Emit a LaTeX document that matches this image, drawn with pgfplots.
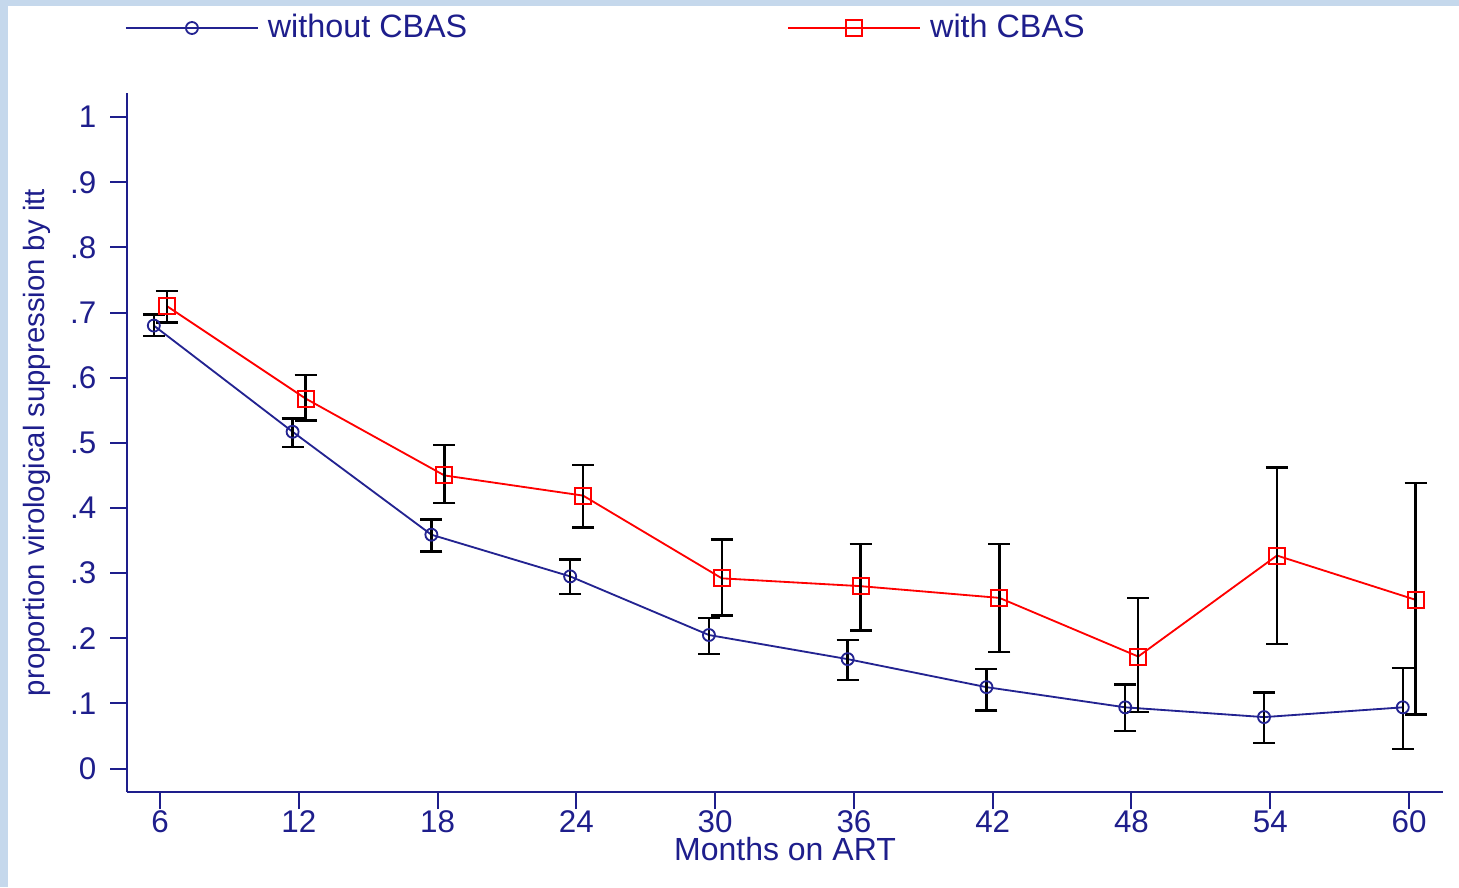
\documentclass[border=0pt]{standalone}
\usepackage{fontspec}
\setmainfont{Liberation Sans}
\usepackage{pgfplots}
\pgfplotsset{compat=1.18}

\definecolor{axisnavy}{RGB}{30,30,140}
\definecolor{linenavy}{RGB}{35,35,145}
\definecolor{bgblue}{RGB}{197,216,236}

\begin{document}
\begin{tikzpicture}
% frame: 1 px of the reference = 0.3pt
\fill[bgblue] (-38.1pt,-28.5pt) rectangle (399.6pt,237.6pt);
\fill[white] (-35.7pt,-28.5pt) rectangle (399.6pt,235.8pt);
\useasboundingbox (-38.1pt,-28.5pt) rectangle (399.6pt,237.6pt);
\begin{axis}[
  at={(0,0)}, anchor=south west,
  scale only axis,
  width=394.8pt, height=209.7pt,
  xmin=4.57, xmax=61.47,
  ymin=-0.036, ymax=1.037,
  axis x line*=bottom, axis y line*=left,
  axis line style={axisnavy, line width=0.6pt},
  tick style={axisnavy, line width=0.6pt},
  tick align=outside, major tick length=5.1pt,
  xtick={6,12,...,60},
  ytick={0,0.1,0.2,0.3,0.4,0.5,0.6,0.7,0.8,0.9,1},
  yticklabels={0,.1,.2,.3,.4,.5,.6,.7,.8,.9,1},
  ticklabel style={font=\fontsize{9.4}{11}\selectfont, text=axisnavy},
  xticklabel style={yshift=3pt},
  yticklabel style={xshift=-0.6pt},
  /pgf/number format/assume math mode=true,
  xlabel={Months on ART},
  ylabel={proportion virological suppression by itt},
  xlabel style={at={(axis description cs:0.5,-0.0815)}, anchor=center,
    font=\fontsize{9.6}{11}\selectfont, text=axisnavy},
  ylabel style={at={(axis description cs:-0.0684,0.5)}, anchor=center,
    font=\fontsize{8.8}{10}\selectfont, text=axisnavy},
  legend columns=2,
  legend style={at={(axis description cs:-0.0015,1.093)}, anchor=west,
    draw=none, fill=none, inner sep=0pt, outer sep=0pt,
    font=\fontsize{9.7}{11}\selectfont, text=axisnavy,
    nodes={inner sep=0pt},
    /tikz/every odd column/.append style={column sep=2.7pt},
    /tikz/every even column/.append style={column sep=96pt}},
  legend image code/.code={
    \draw[mark repeat=2, mark phase=2] plot coordinates {(0pt,0pt) (19.8pt,0pt) (39.6pt,0pt)};},
  error bars/error bar style={black, line width=0.75pt},
  error bars/error mark options={rotate=90, black, mark size=3.3pt, line width=0.75pt},
]
% without CBAS
\addplot[linenavy, line width=0.55pt, mark=o, mark size=1.8pt,
  mark options={line width=0.55pt},
  error bars/.cd, y dir=both, y explicit]
coordinates {
(5.73,0.680)  += (0,0.017) -= (0,0.016)
(11.73,0.517) += (0,0.020) -= (0,0.023)
(17.73,0.359) += (0,0.023) -= (0,0.026)
(23.73,0.295) += (0,0.026) -= (0,0.027)
(29.73,0.205) += (0,0.026) -= (0,0.029)
(35.73,0.168) += (0,0.029) -= (0,0.032)
(41.73,0.125) += (0,0.028) -= (0,0.036)
(47.73,0.094) += (0,0.035) -= (0,0.036)
(53.73,0.079) += (0,0.038) -= (0,0.040)
(59.73,0.094) += (0,0.060) -= (0,0.064)
};
\addlegendentry{without CBAS}
% with CBAS
\addplot[red, line width=0.55pt, mark=square, mark size=2.4pt,
  mark options={line width=0.6pt},
  error bars/.cd, y dir=both, y explicit]
coordinates {
(6.29,0.710)  += (0,0.023) -= (0,0.025)
(12.29,0.568) += (0,0.036) -= (0,0.034)
(18.29,0.450) += (0,0.047) -= (0,0.042)
(24.29,0.419) += (0,0.047) -= (0,0.049)
(30.29,0.292) += (0,0.060) -= (0,0.057)
(36.29,0.280) += (0,0.065) -= (0,0.068)
(42.29,0.262) += (0,0.083) -= (0,0.083)
(48.29,0.172) += (0,0.090) -= (0,0.085)
(54.29,0.327) += (0,0.135) -= (0,0.136)
(60.29,0.259) += (0,0.179) -= (0,0.176)
};
\addlegendentry{with CBAS}
\end{axis}
\end{tikzpicture}
\end{document}
